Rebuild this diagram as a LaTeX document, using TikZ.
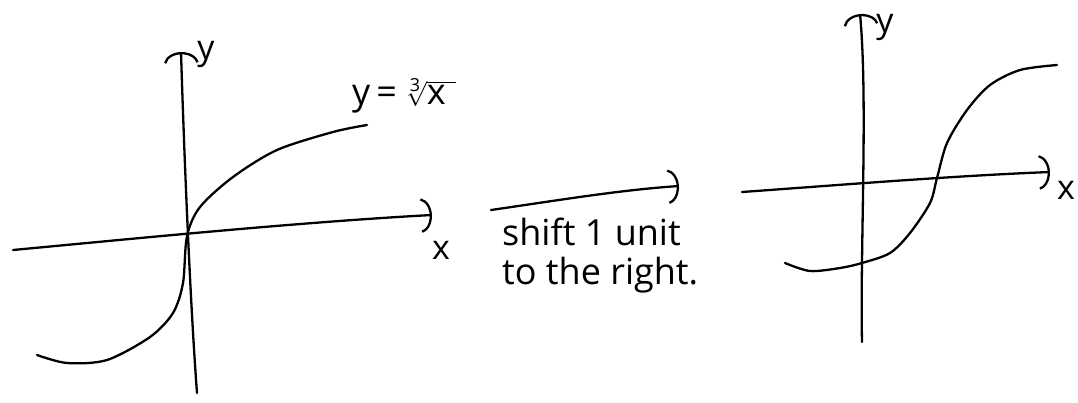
\documentclass[tikz,border=0pt]{standalone}
\usepackage{fontspec}
\setmainfont{Open Sans}
\usetikzlibrary{arrows.meta}
\begin{document}
\begin{tikzpicture}[x=1pt,y=-1pt,
  stroke/.style={line width=2.3pt, line cap=round, line join=round},
  axis/.style={stroke, -{Arc Barb[arc=160, length=8pt, width=22pt, scale=1.6]}},
  lbl/.style={font=\fontsize{34}{40}\selectfont, inner sep=0pt},
  note/.style={font=\fontsize{36}{42}\selectfont, inner sep=0pt, anchor=west}]
\useasboundingbox (0,0) rectangle (1078,402);
% left graph
\coordinate (lxs) at (13,250);
\coordinate (lxe) at (432,215);
\coordinate (lys) at (197,393);
\coordinate (lye) at (181,52);
\draw[axis] (lxs) .. controls (120,240) and (300,222) .. (lxe);
\draw[axis] (lys) .. controls (190,300) and (184,150) .. (lye);
\draw[stroke] plot[smooth] coordinates {(37,355) (67,363) (107,360) (150,337) (173,313) (183,283) (187,236) (200,207) (233,177) (277,150) (333,132) (367,125)};
\node[lbl] (ly) at (206,54) {y};
\node[lbl] (lx) at (441,250) {x};
\node[lbl, font=\fontsize{36}{42}\selectfont] (eq) at (404,96) {y\,=\,$\sqrt[\mbox{\fontsize{18}{18}\selectfont 3}]{\mbox{x\;}}$};
% middle arrow and note
\coordinate (as) at (491,210);
\coordinate (ae) at (679,186);
\draw[axis] (as) .. controls (560,200) and (620,190) .. (ae);
\node[note] (n1) at (502,232) {shift 1 unit};
\node[note] (n2) at (502,275) {to the right.};
% right graph
\coordinate (rxs) at (742,192);
\coordinate (rxe) at (1050,172);
\coordinate (rys) at (862,342);
\coordinate (rye) at (860,14);
\draw[axis] (rxs) .. controls (840,185) and (950,176) .. (rxe);
\draw[axis] (rys) .. controls (860,250) and (868,100) .. (rye);
\draw[stroke] plot[smooth] coordinates {(785,263) (810,271) (840,268) (862,263) (890,253) (910,233) (930,203) (937,178) (947,143) (967,110) (990,85) (1020,70) (1057,65)};
\node[lbl] (ry) at (885,27) {y};
\node[lbl] (rx) at (1066,190) {x};
\end{tikzpicture}
\end{document}
